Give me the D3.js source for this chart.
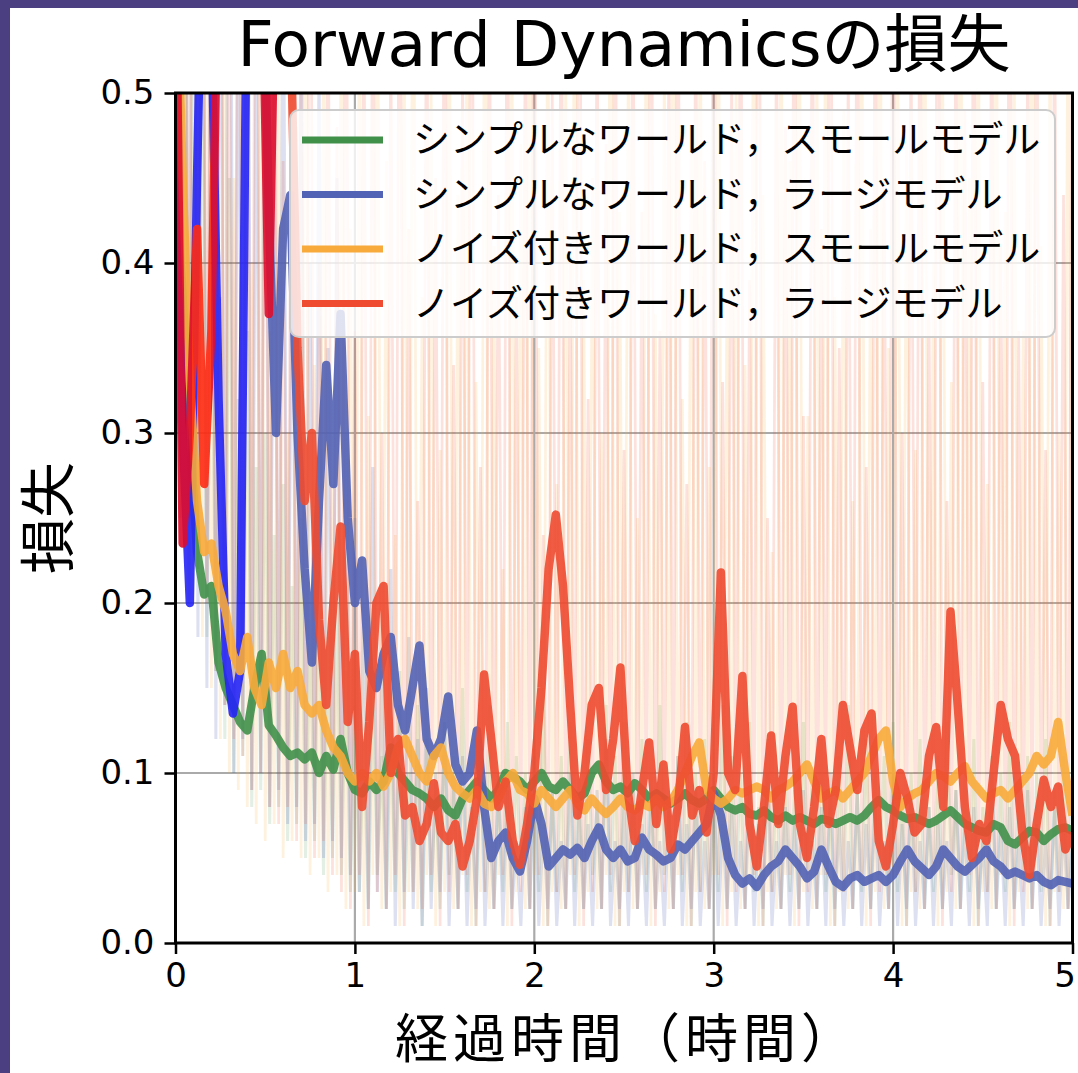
<!DOCTYPE html>
<html>
<head>
<meta charset="utf-8">
<script src="https://cdn.jsdelivr.net/npm/d3@7"></script>
<style>
  html, body { margin: 0; padding: 0; background: #4b3f82; }
  svg { display: block; }
</style>
</head>
<body>
<svg id="chart" width="1078" height="1073"></svg>
<script>
// ---- data -------------------------------------------------------------
const seriesLabels = [
  "シンプルなワールド，スモールモデル",
  "シンプルなワールド，ラージモデル",
  "ノイズ付きワールド，スモールモデル",
  "ノイズ付きワールド，ラージモデル"
];
const xTicks = [0, 1, 2, 3, 4, 5];
const yTicks = [0.0, 0.1, 0.2, 0.3, 0.4, 0.5];

// smoothed loss, logged every 0.04 h from 0 to 5 h
const simpleSmall = [
  0.45, 0.38, 0.30, 0.23, 0.205, 0.21, 0.165, 0.15, 0.14, 0.13,
  0.125, 0.15, 0.17, 0.128, 0.122, 0.115, 0.11, 0.112, 0.108, 0.112,
  0.10, 0.11, 0.102, 0.12, 0.10, 0.09, 0.088, 0.095, 0.09, 0.095,
  0.115, 0.10, 0.095, 0.09, 0.088, 0.085, 0.08, 0.085, 0.078, 0.075,
  0.085, 0.09, 0.095, 0.09, 0.085, 0.09, 0.10, 0.098, 0.095, 0.09,
  0.095, 0.10, 0.092, 0.09, 0.095, 0.09, 0.085, 0.088, 0.10, 0.105,
  0.095, 0.09, 0.092, 0.088, 0.094, 0.09, 0.085, 0.088, 0.085, 0.082,
  0.085, 0.088, 0.084, 0.082, 0.085, 0.09, 0.085, 0.08, 0.078, 0.08,
  0.076, 0.075, 0.078, 0.074, 0.072, 0.075, 0.072, 0.074, 0.072, 0.07,
  0.073, 0.072, 0.07, 0.072, 0.074, 0.072, 0.075, 0.08, 0.084, 0.08,
  0.078, 0.075, 0.073, 0.074, 0.072, 0.07, 0.072, 0.075, 0.078, 0.074,
  0.07, 0.068, 0.066, 0.065, 0.07, 0.068, 0.06, 0.058, 0.062, 0.066,
  0.065, 0.06, 0.064, 0.067, 0.068, 0.066
];
const simpleLarge = [
  0.6, 0.3, 0.2, 0.45, 0.65, 0.55, 0.32, 0.17, 0.135, 0.16,
  0.6, 0.65, 0.62, 0.43, 0.30, 0.42, 0.44, 0.30, 0.22, 0.165,
  0.26, 0.34, 0.27, 0.37, 0.25, 0.20, 0.225, 0.16, 0.15, 0.17,
  0.18, 0.14, 0.125, 0.15, 0.175, 0.12, 0.11, 0.12, 0.145, 0.105,
  0.095, 0.10, 0.125, 0.08, 0.05, 0.06, 0.065, 0.05, 0.042, 0.06,
  0.085, 0.07, 0.045, 0.05, 0.055, 0.052, 0.056, 0.05, 0.06, 0.068,
  0.055, 0.05, 0.055, 0.048, 0.05, 0.062, 0.055, 0.052, 0.048, 0.05,
  0.058, 0.055, 0.06, 0.065, 0.07, 0.088, 0.075, 0.05, 0.04, 0.035,
  0.038, 0.033, 0.04, 0.045, 0.048, 0.055, 0.05, 0.045, 0.038, 0.042,
  0.055, 0.045, 0.036, 0.033, 0.038, 0.04, 0.036, 0.038, 0.04, 0.036,
  0.04, 0.048, 0.055, 0.048, 0.044, 0.04, 0.045, 0.055, 0.05, 0.045,
  0.042, 0.046, 0.05, 0.055, 0.048, 0.045, 0.04, 0.042, 0.04, 0.038,
  0.04, 0.036, 0.034, 0.037, 0.036, 0.035
];
const noisySmall = [
  0.6, 0.45, 0.33, 0.26, 0.23, 0.235, 0.21, 0.195, 0.17, 0.16,
  0.18, 0.15, 0.14, 0.165, 0.15, 0.17, 0.15, 0.16, 0.14, 0.135,
  0.14, 0.125, 0.115, 0.11, 0.10, 0.095, 0.10, 0.095, 0.10, 0.092,
  0.10, 0.115, 0.12, 0.11, 0.10, 0.095, 0.11, 0.115, 0.10, 0.092,
  0.088, 0.085, 0.09, 0.082, 0.08, 0.085, 0.095, 0.10, 0.09, 0.088,
  0.082, 0.09, 0.085, 0.08, 0.085, 0.09, 0.082, 0.078, 0.085, 0.08,
  0.076, 0.08, 0.085, 0.08, 0.078, 0.082, 0.08, 0.085, 0.08, 0.083,
  0.09, 0.10, 0.11, 0.118, 0.09, 0.085, 0.082, 0.085, 0.09, 0.088,
  0.09, 0.092, 0.09, 0.085, 0.09, 0.092, 0.095, 0.10, 0.105, 0.095,
  0.085, 0.088, 0.09, 0.085, 0.09, 0.095, 0.10, 0.11, 0.12, 0.125,
  0.095, 0.08, 0.085, 0.088, 0.09, 0.095, 0.10, 0.098, 0.095, 0.10,
  0.104, 0.095, 0.09, 0.085, 0.088, 0.09, 0.085, 0.09, 0.095, 0.10,
  0.11, 0.105, 0.11, 0.13, 0.10, 0.075
];
const noisyLarge = [
  0.6, 0.235, 0.3, 0.42, 0.27, 0.36, 0.6, 0.65, 0.6, 0.62,
  0.6, 0.58, 0.6, 0.37, 0.6, 0.62, 0.55, 0.35, 0.26, 0.3,
  0.19, 0.14, 0.2, 0.245, 0.13, 0.17, 0.08, 0.13, 0.2, 0.21,
  0.1, 0.12, 0.075, 0.08, 0.06, 0.07, 0.094, 0.065, 0.06, 0.07,
  0.045, 0.06, 0.085, 0.158, 0.12, 0.08, 0.095, 0.06, 0.046, 0.07,
  0.1, 0.15, 0.22, 0.252, 0.21, 0.14, 0.075, 0.1, 0.14, 0.15,
  0.09, 0.12, 0.162, 0.09, 0.06, 0.09, 0.118, 0.07, 0.105, 0.055,
  0.08, 0.127, 0.075, 0.09, 0.065, 0.1, 0.218, 0.1, 0.09, 0.157,
  0.07, 0.045, 0.08, 0.122, 0.07, 0.11, 0.139, 0.07, 0.05, 0.08,
  0.12, 0.07, 0.09, 0.14, 0.115, 0.09, 0.125, 0.135, 0.06, 0.045,
  0.07, 0.1, 0.085, 0.065, 0.07, 0.11, 0.127, 0.08, 0.195, 0.14,
  0.08, 0.05, 0.07, 0.06, 0.1, 0.14, 0.12, 0.11, 0.065, 0.04,
  0.07, 0.096, 0.08, 0.092, 0.055, 0.065
];

// raw (unsmoothed) loss, logged every 0.025 h from 0 to 5 h
const rawSimpleSmall = [
  0.75, 0.3, 0.6, 0.25, 0.5, 0.22, 0.55, 0.18, 0.42, 0.16,
  0.38, 0.12, 0.45, 0.1, 0.32, 0.11, 0.36, 0.08, 0.28, 0.09,
  0.3, 0.07, 0.24, 0.08, 0.27, 0.06, 0.21, 0.07, 0.25, 0.05,
  0.19, 0.06, 0.22, 0.04, 0.18, 0.05, 0.2, 0.04, 0.16, 0.03,
  0.14, 0.03, 0.12, 0.02, 0.15, 0.04, 0.11, 0.02, 0.13, 0.03,
  0.16, 0.02, 0.1, 0.03, 0.14, 0.01, 0.12, 0.03, 0.09, 0.02,
  0.13, 0.04, 0.11, 0.02, 0.15, 0.03, 0.1, 0.01, 0.12, 0.03,
  0.14, 0.02, 0.09, 0.03, 0.13, 0.02, 0.11, 0.04, 0.1, 0.02,
  0.12, 0.03, 0.15, 0.01, 0.09, 0.03, 0.11, 0.02, 0.13, 0.03,
  0.1, 0.02, 0.12, 0.04, 0.08, 0.02, 0.14, 0.03, 0.11, 0.01,
  0.13, 0.03, 0.09, 0.02, 0.12, 0.03, 0.1, 0.02, 0.14, 0.04,
  0.08, 0.02, 0.11, 0.03, 0.13, 0.01, 0.1, 0.03, 0.12, 0.02,
  0.09, 0.03, 0.14, 0.02, 0.11, 0.04, 0.1, 0.02, 0.13, 0.03,
  0.08, 0.01, 0.12, 0.03, 0.1, 0.02, 0.11, 0.03, 0.09, 0.02,
  0.13, 0.04, 0.1, 0.02, 0.12, 0.03, 0.08, 0.01, 0.11, 0.03,
  0.14, 0.02, 0.09, 0.03, 0.12, 0.02, 0.1, 0.04, 0.11, 0.02,
  0.13, 0.03, 0.09, 0.01, 0.1, 0.03, 0.12, 0.02, 0.08, 0.03,
  0.11, 0.02, 0.13, 0.04, 0.09, 0.02, 0.1, 0.03, 0.12, 0.01,
  0.08, 0.03, 0.11, 0.02, 0.1, 0.03, 0.13, 0.02, 0.09, 0.04,
  0.11, 0.02, 0.1, 0.03, 0.12, 0.01, 0.09, 0.03, 0.11, 0.02,
  0.1
];
const rawSimpleLarge = [
  0.95, 0.25, 0.85, 0.2, 0.9, 0.18, 0.7, 0.15, 0.8, 0.12,
  0.65, 0.14, 0.88, 0.1, 0.6, 0.12, 0.75, 0.09, 0.55, 0.1,
  0.7, 0.08, 0.5, 0.09, 0.62, 0.07, 0.45, 0.08, 0.58, 0.06,
  0.4, 0.07, 0.52, 0.05, 0.35, 0.06, 0.45, 0.05, 0.3, 0.04,
  0.25, 0.03, 0.2, 0.02, 0.28, 0.03, 0.16, 0.02, 0.22, 0.01,
  0.14, 0.03, 0.18, 0.02, 0.12, 0.01, 0.15, 0.02, 0.1, 0.03,
  0.13, 0.01, 0.09, 0.02, 0.11, 0.01, 0.08, 0.02, 0.12, 0.01,
  0.07, 0.02, 0.1, 0.01, 0.09, 0.02, 0.06, 0.01, 0.08, 0.02,
  0.11, 0.01, 0.07, 0.02, 0.09, 0.01, 0.06, 0.02, 0.1, 0.01,
  0.08, 0.02, 0.07, 0.01, 0.09, 0.02, 0.12, 0.01, 0.06, 0.02,
  0.08, 0.01, 0.1, 0.02, 0.07, 0.01, 0.09, 0.02, 0.06, 0.01,
  0.08, 0.02, 0.11, 0.01, 0.07, 0.02, 0.09, 0.01, 0.06, 0.02,
  0.1, 0.01, 0.07, 0.02, 0.08, 0.01, 0.06, 0.02, 0.09, 0.01,
  0.07, 0.02, 0.1, 0.01, 0.06, 0.02, 0.08, 0.01, 0.07, 0.02,
  0.09, 0.01, 0.06, 0.02, 0.08, 0.01, 0.1, 0.02, 0.07, 0.01,
  0.06, 0.02, 0.09, 0.01, 0.07, 0.02, 0.08, 0.01, 0.06, 0.02,
  0.1, 0.01, 0.07, 0.02, 0.09, 0.01, 0.06, 0.02, 0.08, 0.01,
  0.07, 0.02, 0.06, 0.01, 0.09, 0.02, 0.07, 0.01, 0.08, 0.02,
  0.06, 0.01, 0.1, 0.02, 0.07, 0.01, 0.08, 0.02, 0.06, 0.01,
  0.09, 0.02, 0.07, 0.01, 0.06, 0.02, 0.08, 0.01, 0.07, 0.02,
  0.06
];
const rawNoisySmall = [
  0.5, 0.88, 0.3, 0.7, 0.22, 0.6, 0.18, 0.76, 0.15, 0.5,
  0.12, 0.64, 0.1, 0.45, 0.09, 0.58, 0.08, 0.4, 0.07, 0.62,
  0.06, 0.36, 0.07, 0.52, 0.05, 0.3, 0.06, 0.48, 0.05, 0.66,
  0.04, 0.34, 0.05, 0.55, 0.03, 0.27, 0.04, 0.6, 0.02, 0.42,
  0.03, 0.57, 0.01, 0.31, 0.04, 0.63, 0.02, 0.46, 0.03, 0.24,
  0.01, 0.53, 0.03, 0.68, 0.02, 0.38, 0.04, 0.5, 0.01, 0.29,
  0.03, 0.61, 0.02, 0.44, 0.04, 0.56, 0.01, 0.33, 0.03, 0.65,
  0.02, 0.41, 0.04, 0.22, 0.01, 0.54, 0.03, 0.47, 0.02, 0.69,
  0.04, 0.35, 0.01, 0.58, 0.03, 0.27, 0.02, 0.51, 0.04, 0.62,
  0.01, 0.39, 0.03, 0.45, 0.02, 0.3, 0.04, 0.66, 0.01, 0.43,
  0.03, 0.55, 0.02, 0.25, 0.04, 0.6, 0.01, 0.37, 0.03, 0.52,
  0.02, 0.7, 0.04, 0.32, 0.01, 0.48, 0.03, 0.57, 0.02, 0.28,
  0.04, 0.63, 0.01, 0.4, 0.03, 0.5, 0.02, 0.34, 0.04, 0.67,
  0.01, 0.44, 0.03, 0.23, 0.02, 0.59, 0.04, 0.46, 0.01, 0.64,
  0.03, 0.31, 0.02, 0.53, 0.04, 0.61, 0.01, 0.38, 0.03, 0.49,
  0.02, 0.26, 0.04, 0.58, 0.01, 0.42, 0.03, 0.69, 0.02, 0.35,
  0.04, 0.56, 0.01, 0.47, 0.03, 0.29, 0.02, 0.62, 0.04, 0.4,
  0.01, 0.54, 0.03, 0.33, 0.02, 0.66, 0.04, 0.45, 0.01, 0.57,
  0.03, 0.27, 0.02, 0.6, 0.04, 0.43, 0.01, 0.52, 0.03, 0.36,
  0.02, 0.68, 0.04, 0.41, 0.01, 0.55, 0.03, 0.3, 0.02, 0.58,
  0.04
];
const rawNoisyLarge = [
  0.95, 0.32, 0.85, 0.26, 0.78, 0.22, 0.9, 0.2, 0.66, 0.16,
  0.8, 0.14, 0.58, 0.12, 0.72, 0.11, 0.62, 0.09, 0.84, 0.1,
  0.55, 0.08, 0.7, 0.07, 0.46, 0.08, 0.64, 0.06, 0.52, 0.07,
  0.75, 0.05, 0.4, 0.06, 0.6, 0.04, 0.48, 0.03, 0.68, 0.02,
  0.36, 0.04, 0.57, 0.01, 0.62, 0.03, 0.3, 0.02, 0.54, 0.04,
  0.7, 0.01, 0.42, 0.03, 0.26, 0.02, 0.6, 0.04, 0.45, 0.01,
  0.66, 0.03, 0.34, 0.02, 0.52, 0.04, 0.72, 0.01, 0.28, 0.03,
  0.58, 0.02, 0.44, 0.04, 0.63, 0.01, 0.38, 0.03, 0.55, 0.02,
  0.68, 0.04, 0.24, 0.01, 0.5, 0.03, 0.61, 0.02, 0.4, 0.04,
  0.74, 0.01, 0.32, 0.03, 0.56, 0.02, 0.47, 0.04, 0.65, 0.01,
  0.29, 0.03, 0.59, 0.02, 0.43, 0.04, 0.7, 0.01, 0.36, 0.03,
  0.53, 0.02, 0.64, 0.04, 0.27, 0.01, 0.57, 0.03, 0.46, 0.02,
  0.69, 0.04, 0.33, 0.01, 0.51, 0.03, 0.62, 0.02, 0.39, 0.04,
  0.73, 0.01, 0.25, 0.03, 0.55, 0.02, 0.48, 0.04, 0.66, 0.01,
  0.31, 0.03, 0.6, 0.02, 0.42, 0.04, 0.71, 0.01, 0.35, 0.03,
  0.52, 0.02, 0.63, 0.04, 0.28, 0.01, 0.58, 0.03, 0.45, 0.02,
  0.67, 0.04, 0.3, 0.01, 0.54, 0.03, 0.61, 0.02, 0.37, 0.04,
  0.72, 0.01, 0.26, 0.03, 0.56, 0.02, 0.49, 0.04, 0.64, 0.01,
  0.33, 0.03, 0.59, 0.02, 0.41, 0.04, 0.68, 0.01, 0.36, 0.03,
  0.53, 0.02, 0.62, 0.04, 0.29, 0.01, 0.57, 0.03, 0.44, 0.02,
  0.6
];

// ---- styling ----------------------------------------------------------
const colors = ["#40904a", "#5262b4", "#f8aa3a", "#ee4b30"];
const smoothed = [simpleSmall, simpleLarge, noisySmall, noisyLarge];
const raws = [rawSimpleSmall, rawSimpleLarge, rawNoisySmall, rawNoisyLarge];
const rawOpacity = [0.15, 0.2, 0.17, 0.17];
const rawWidth = [3, 3, 2.7, 2.7];

const W = 1078, H = 1073;
const plot = { left: 175.5, right: 1072.5, top: 93, bottom: 943 };
const latin = "'DejaVu Sans', 'Noto Sans CJK JP', sans-serif";
const cjk = "'Noto Sans CJK JP', sans-serif";

const svg = d3.select("#chart");
const x = d3.scaleLinear().domain([0, 5]).range([plot.left, plot.right]);
const y = d3.scaleLinear().domain([0, 0.5]).range([plot.bottom, plot.top]);

// pair each value with its time stamp (evenly spaced over 0–5 h)
const toPoints = arr => arr.map((v, i) => [i * 5 / (arr.length - 1), v]);
const line = d3.line().x(d => x(d[0])).y(d => y(d[1]));

// page background and white card
svg.append("rect").attr("width", W).attr("height", H).attr("fill", "#4b3f82");
svg.append("rect").attr("x", 10).attr("y", 8).attr("width", W - 10).attr("height", H - 8).attr("fill", "#ffffff");

const defs = svg.append("defs");
defs.append("clipPath").attr("id", "plotClip")
  .append("rect")
  .attr("x", plot.left).attr("y", plot.top)
  .attr("width", plot.right - plot.left).attr("height", plot.bottom - plot.top);

// early part of the large-model runs is drawn in a more saturated shade
function stepGradient(id, stops) {
  const g = defs.append("linearGradient").attr("id", id)
    .attr("gradientUnits", "userSpaceOnUse")
    .attr("x1", x(0)).attr("x2", x(5)).attr("y1", 0).attr("y2", 0);
  stops.forEach(([t0, t1, c]) => {
    g.append("stop").attr("offset", t0 / 5).attr("stop-color", c);
    g.append("stop").attr("offset", t1 / 5).attr("stop-color", c);
  });
}
stepGradient("blueGrad", [[0, 0.46, "#2424f6"], [0.46, 5, colors[1]]]);
stepGradient("redGrad", [[0, 0.09, "#de0c2c"], [0.09, 0.2, "#ff2a12"], [0.2, 0.58, "#df0e2c"], [0.58, 5, colors[3]]]);
const strokes = [colors[0], "url(#blueGrad)", colors[2], "url(#redGrad)"];

// grid
const grid = svg.append("g");
grid.selectAll(".gx").data(xTicks.slice(1, -1)).join("line")
  .attr("x1", d => x(d)).attr("x2", d => x(d))
  .attr("y1", plot.top).attr("y2", plot.bottom)
  .attr("stroke", "#aaaaaa").attr("stroke-width", 2.2);
grid.selectAll(".gy").data(yTicks.slice(1, -1)).join("line")
  .attr("x1", plot.left).attr("x2", plot.right)
  .attr("y1", d => y(d)).attr("y2", d => y(d))
  .attr("stroke", "#aaaaaa").attr("stroke-width", 2.2);

const plotArea = svg.append("g").attr("clip-path", "url(#plotClip)");

// raw traces
plotArea.selectAll(".raw").data(raws).join("path")
  .attr("class", "raw")
  .attr("d", d => line(toPoints(d)))
  .attr("fill", "none")
  .attr("stroke", (d, i) => colors[i])
  .attr("stroke-opacity", (d, i) => rawOpacity[i])
  .attr("stroke-width", (d, i) => rawWidth[i])
  .attr("stroke-linejoin", "bevel");

// smoothed curves
plotArea.selectAll(".smooth").data(smoothed).join("path")
  .attr("class", "smooth")
  .attr("d", d => line(toPoints(d)))
  .attr("fill", "none")
  .attr("stroke", (d, i) => strokes[i])
  .attr("stroke-opacity", 0.9)
  .attr("stroke-width", 8.5)
  .attr("stroke-linejoin", "round")
  .attr("stroke-linecap", "butt");

// frame
svg.append("rect")
  .attr("x", plot.left).attr("y", plot.top)
  .attr("width", plot.right - plot.left).attr("height", plot.bottom - plot.top)
  .attr("fill", "none").attr("stroke", "#000").attr("stroke-width", 3);

// axes
const yAxis = svg.append("g").attr("transform", `translate(${plot.left},0)`)
  .call(d3.axisLeft(y).tickValues(yTicks).tickFormat(d3.format(".1f")).tickSize(11).tickPadding(10));
const xAxis = svg.append("g").attr("transform", `translate(0,${plot.bottom})`)
  .call(d3.axisBottom(x).tickValues(xTicks).tickFormat(d3.format("d")).tickSize(11).tickPadding(9));
[xAxis, yAxis].forEach(a => {
  a.select(".domain").remove();
  a.selectAll(".tick line").attr("stroke", "#000").attr("stroke-width", 2.5);
  a.selectAll(".tick text").attr("fill", "#000")
    .style("font-family", latin).style("font-size", "34px");
});
// keep the last x label inside the card
xAxis.selectAll(".tick text").filter(d => d === 5).attr("dx", "-8");

// legend
const legend = svg.append("g");
legend.append("rect")
  .attr("x", 290).attr("y", 110).attr("width", 765).attr("height", 227)
  .attr("rx", 9).attr("ry", 9)
  .attr("fill", "#ffffff").attr("fill-opacity", 0.8)
  .attr("stroke", "#cccccc").attr("stroke-width", 2);
const rows = legend.selectAll(".row").data(seriesLabels).join("g")
  .attr("transform", (d, i) => `translate(0,${140 + i * 54.5})`);
rows.append("line")
  .attr("x1", 302).attr("x2", 383).attr("y1", 0).attr("y2", 0)
  .attr("stroke", (d, i) => colors[i]).attr("stroke-width", 7);
rows.append("text")
  .attr("x", 413).attr("y", 0).attr("dy", "0.36em")
  .style("font-family", cjk).style("font-size", "37px").attr("fill", "#000")
  .text(d => d);

// titles
svg.append("text")
  .attr("x", 624).attr("y", 43).attr("dy", "0.36em")
  .attr("text-anchor", "middle")
  .style("font-family", latin).style("font-size", "63px").attr("fill", "#000")
  .text("Forward Dynamicsの損失");
svg.append("text")
  .attr("transform", "translate(48,518) rotate(-90)")
  .attr("dy", "0.36em").attr("text-anchor", "middle")
  .style("font-family", cjk).style("font-size", "56px").attr("fill", "#000")
  .text("損失");
svg.append("text")
  .attr("x", 627).attr("y", 1039).attr("dy", "0.36em")
  .attr("text-anchor", "middle")
  .style("font-family", cjk).style("font-size", "53px")
  .style("letter-spacing", "5px").attr("fill", "#000")
  .text("経過時間（時間）");
</script>
</body>
</html>
